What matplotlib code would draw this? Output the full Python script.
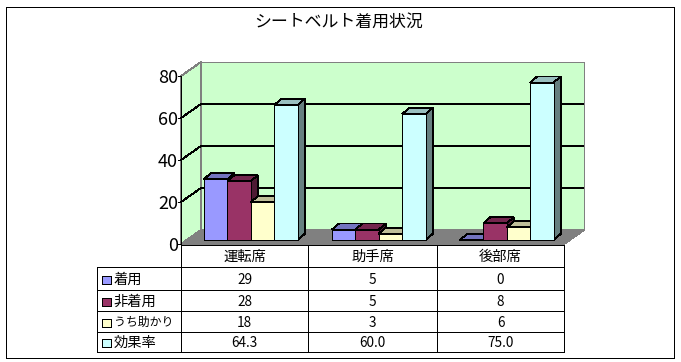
import matplotlib
matplotlib.use('Agg')
import matplotlib.pyplot as plt
from matplotlib.colors import to_rgb

plt.rcParams['font.family'] = ['Noto Sans CJK JP', 'DejaVu Sans']

title = 'シートベルト着用状況'
categories = ['運転席', '助手席', '後部席']
series_names = ['着用', '非着用', 'うち助かり', '効果率']
chakuyo = [29, 5, 0]
hi_chakuyo = [28, 5, 8]
uchi_tasukari = [18, 3, 6]
koka_ritsu = [64.3, 60.0, 75.0]
y_ticks = [0, 20, 40, 60, 80]

series_values = [chakuyo, hi_chakuyo, uchi_tasukari, koka_ritsu]
series_labels = [['29', '5', '0'], ['28', '5', '8'], ['18', '3', '6'], ['64.3', '60.0', '75.0']]
colors = ['#9999FF', '#993366', '#FFFFCC', '#CCFFFF']
name_sizes = [10.3, 10.3, 8.6, 10.3]

# ---- layout in pixels ----
AXIS_X = 181.5
ZERO_Y = 243.5
PX_PER_UNIT = 2.1
WALL_DX = 20
WALL_DY = 14
FLOOR_RIGHT = 564.5
BAR_ZERO_Y = 239.5
BAR_START = 204.5
GROUP_STEP = 128
BAR_W = 23.4
BAR_DX = 7
BAR_DY = 6
COL_X = [97.5, 181.5, 308.5, 437.5, 564.5]
ROW_Y = [244.5, 266.5, 289.5, 310.5, 331.5, 351.5]
LW = 0.6

fig = plt.figure(figsize=(6.81, 3.62), dpi=100)
ax = fig.add_axes([0, 0, 1, 1])
# half a pixel off so that agg's snapping lands the lines on the right pixels
ax.set_xlim(0.5, 681.5)
ax.set_ylim(361.5, -0.5)
ax.axis('off')


def poly(xs, ys, face, edge='black', z=2):
    ax.fill(xs, ys, facecolor=face, edgecolor=edge, linewidth=LW, antialiased=False, zorder=z)


def line(xs, ys, color='black', z=3):
    ax.plot(xs, ys, color=color, linewidth=LW, antialiased=False, solid_capstyle='butt', zorder=z)


def shade(color, k):
    return tuple(c * k for c in to_rgb(color))


# outer frame
poly([6.5, 674.5, 674.5, 6.5], [6.5, 6.5, 357.5, 357.5], 'white', z=0)
ax.text(339.5, 21.5, title, fontsize=12.2, ha='center', va='center')

# walls and floor
top_y = ZERO_Y - y_ticks[-1] * PX_PER_UNIT
back_x = AXIS_X + WALL_DX
back_right = FLOOR_RIGHT + WALL_DX
poly([back_x, back_right, back_right, back_x],
     [top_y - WALL_DY, top_y - WALL_DY, ZERO_Y - WALL_DY, ZERO_Y - WALL_DY], '#CCFFCC', '#808080', 1)
poly([AXIS_X, back_x, back_x, AXIS_X],
     [ZERO_Y, ZERO_Y - WALL_DY, top_y - WALL_DY, top_y], '#CCFFCC', '#808080', 1)
poly([AXIS_X, back_x, back_right, FLOOR_RIGHT],
     [ZERO_Y, ZERO_Y - WALL_DY, ZERO_Y - WALL_DY, ZERO_Y], '#808080', '#808080', 1)

# gridlines, y axis and tick labels
for v in y_ticks:
    y = ZERO_Y - v * PX_PER_UNIT
    if 0 < v < y_ticks[-1]:
        line([AXIS_X, back_x, back_right], [y, y - WALL_DY, y - WALL_DY], z=1.5)
    line([AXIS_X - 3, AXIS_X], [y, y])
    ax.text(178.5, y + 2, str(v), fontsize=13, ha='right', va='center')
line([AXIS_X, AXIS_X], [top_y, ZERO_Y])

# bars, back to front in series order
for g in range(len(categories)):
    for s, values in enumerate(series_values):
        x0 = BAR_START + g * GROUP_STEP + s * BAR_W
        x1 = x0 + BAR_W
        y1 = BAR_ZERO_Y - values[g] * PX_PER_UNIT
        z = 2 + g + s * 0.1
        poly([x1, x1 + BAR_DX, x1 + BAR_DX, x1],
             [BAR_ZERO_Y, BAR_ZERO_Y - BAR_DY, y1 - BAR_DY, y1], shade(colors[s], 0.5), z=z)
        poly([x0, x0 + BAR_DX, x1 + BAR_DX, x1],
             [y1, y1 - BAR_DY, y1 - BAR_DY, y1], shade(colors[s], 0.75), z=z)
        poly([x0, x1, x1, x0], [BAR_ZERO_Y, BAR_ZERO_Y, y1, y1], colors[s], z=z)

# data table
line([COL_X[1], COL_X[-1]], [ROW_Y[0], ROW_Y[0]], z=10)
for y in ROW_Y[1:]:
    line([COL_X[0], COL_X[-1]], [y, y], z=10)
line([COL_X[0], COL_X[0]], [ROW_Y[1], ROW_Y[-1]], z=10)
for x in COL_X[1:]:
    line([x, x], [ROW_Y[0], ROW_Y[-1]], z=10)

for c, name in enumerate(categories):
    cx = (COL_X[c + 1] + COL_X[c + 2]) / 2
    ax.text(cx, (ROW_Y[0] + ROW_Y[1]) / 2 + 1, name, fontsize=10.3, ha='center', va='center')

for r, name in enumerate(series_names):
    cy = (ROW_Y[r + 1] + ROW_Y[r + 2]) / 2 + 1
    poly([102.5, 111.5, 111.5, 102.5], [cy - 4, cy - 4, cy + 4, cy + 4], colors[r], z=10)
    ax.text(114, cy, name, fontsize=name_sizes[r], ha='left', va='center')
    for c, label in enumerate(series_labels[r]):
        cx = (COL_X[c + 1] + COL_X[c + 2]) / 2
        ax.text(cx, cy, label, fontsize=9.8, ha='center', va='center')

fig.savefig('out.png', dpi=100)
